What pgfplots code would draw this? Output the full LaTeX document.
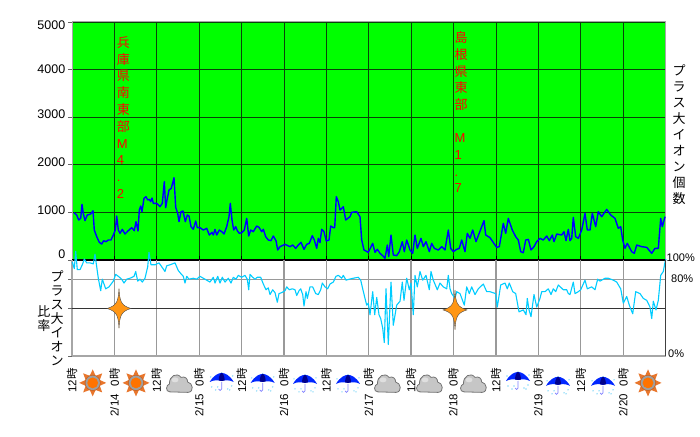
\documentclass[border=0pt]{standalone}
\usepackage{fontspec}
\usepackage{pgfplots}
\pgfplotsset{compat=1.18}
\setmainfont{Liberation Sans}
\newfontfamily\cjk{Noto Sans CJK JP}
\definecolor{grnbg}{HTML}{00FF00}
\definecolor{gridg}{HTML}{0A420A}
\definecolor{qorange}{HTML}{FF9614}
\definecolor{sunor}{HTML}{E8762C}
\newcommand{\hh}{\cjk 時}
\pgfdeclareplotmark{quake}{%
  \pgfpathmoveto{\pgfqpoint{0pt}{20pt}}%
  \pgfpathcurveto{\pgfqpoint{0.8pt}{8pt}}{\pgfqpoint{1.5pt}{3pt}}{\pgfqpoint{12pt}{0pt}}%
  \pgfpathcurveto{\pgfqpoint{1.5pt}{-3pt}}{\pgfqpoint{0.8pt}{-8pt}}{\pgfqpoint{0pt}{-20pt}}%
  \pgfpathcurveto{\pgfqpoint{-0.8pt}{-8pt}}{\pgfqpoint{-1.5pt}{-3pt}}{\pgfqpoint{-12pt}{0pt}}%
  \pgfpathcurveto{\pgfqpoint{-1.5pt}{3pt}}{\pgfqpoint{-0.8pt}{8pt}}{\pgfqpoint{0pt}{20pt}}%
  \pgfpathclose\pgfusepathqfillstroke}
\tikzset{
 sun/.pic={
  \foreach \a in {0,45,...,315}{
    \fill[sunor,rotate=\a] (6.5pt,-3.2pt) -- (13.5pt,0pt) -- (6.5pt,3.2pt) -- cycle;}
  \fill[sunor!85!black] (0pt,0pt) circle (8pt);
  \fill[gray!75] (0pt,0pt) circle (7.2pt);
  \fill[orange!90!red] (0pt,0pt) circle (5.4pt);
 },
 cloud/.pic={
  \fill[gray!45,draw=gray!90!black,line width=.8pt]
   (-10pt,-9pt) .. controls (-15pt,-9pt) and (-14pt,-2pt) .. (-10.5pt,-1pt)
   .. controls (-11pt,7pt) and (-3pt,11pt) .. (1pt,5.5pt)
   .. controls (5pt,7pt) and (8pt,4pt) .. (7.5pt,1pt)
   .. controls (13pt,0pt) and (14.5pt,-9pt) .. (8pt,-9.5pt) -- cycle;
  \fill[gray!25] (-5pt,3pt) ellipse (3.5pt and 2.5pt);
 },
 umb/.pic={
  \foreach \p/\q in {-10/-6,-6/-9,6/-8,10/-5,-11/4,11/5,0/8,-4/-6,8/-9}{
    \fill[cyan!45] (\p pt,\q pt) circle (.8pt);}
  \draw[blue!50,line width=.7pt] (0pt,-1pt) -- (0pt,-8pt) arc (360:180:1.5pt);
  \fill[blue!85!cyan] (-12pt,-1pt) .. controls (-8pt,6pt) and (-3pt,8pt) .. (0pt,8pt)
     .. controls (3pt,8pt) and (8pt,6pt) .. (12pt,-1pt)
     .. controls (8pt,1pt) and (4pt,1pt) .. (0pt,0pt)
     .. controls (-4pt,1pt) and (-8pt,1pt) .. (-12pt,-1pt);
  \fill[blue!55!black] (-3pt,.5pt) .. controls (-3pt,5pt) and (-1pt,8pt) .. (0pt,8pt)
     .. controls (1pt,8pt) and (3pt,5pt) .. (3pt,.5pt) -- (0pt,0pt) -- cycle;
 }
}
\pgfplotstableread{
x y
74.0 994
76.7 945
78.7 840
80.7 875
82 1169
83.3 980
85 826
87.3 945
90.7 966
93 1036
94.3 630
96.7 490
99.3 371
101.7 336
103.7 406
106 385
108.3 420
111 420
113.3 525
115.3 630
116.7 924
118.3 630
120 560
122.3 644
125 546
128.3 616
131.7 679
134.3 616
136 805
138 609
139.3 1050
140.7 1134
142 1015
144 1295
146 1330
147.7 1260
149.3 1274
150.7 1225
152 1302
153.3 1190
156.7 1190
160 1120
162.3 1190
164.3 1645
165.7 1099
167 1260
169 1470
171.3 1505
174 1729
175.7 1106
177.7 980
179 805
181 1015
183 1029
185.3 805
187.3 945
189 924
191 700
193.3 644
195.7 819
197.3 679
200 679
203.3 630
206.7 665
209.3 525
212 581
213.3 525
215 644
216.7 525
219.3 630
221.7 595
224 546
226.7 700
229 910
230.3 1190
232 840
233.7 630
235.7 700
237.3 616
239.3 560
241.7 574
244.3 630
246.7 875
248.7 504
250.7 630
253.3 595
256.7 714
259 686
261.7 595
263.3 644
265.7 490
268.3 420
271 406
273.3 504
276 406
277.7 210
280 280
285 329
290 280
292.7 315
295.7 245
298.3 315
301 371
304 224
306.7 329
309.3 350
312.3 511
314.3 420
316.7 245
318.3 455
320 364
321.7 644
324 595
326.3 399
329 420
330.7 714
333.3 679
334.7 679
336.3 1330
338.3 1225
340 1050
343.3 1120
345.7 840
350 910
351.7 1001
356.7 1015
360 910
361.7 420
364 210
368.3 161
372.7 350
375 161
377.3 224
380 140
382.7 91
385 35
387.3 315
388.7 70
391 525
393.3 105
396.7 91
399.3 175
402.3 385
404.3 175
406.7 420
410 210
412.7 140
415 525
417.3 245
421 455
423.3 280
426 385
429.3 175
431.7 350
434.3 245
438.3 210
441.7 280
445 210
448.3 630
450.7 245
453.3 175
456.7 224
459.3 245
461.7 420
465 175
467.3 560
470 455
472.7 630
476 385
484 826
485.7 525
490 469
495 315
496.7 266
499.3 280
503.3 770
505.7 560
508.3 875
512.3 630
515.7 490
518.3 420
520.7 175
523.3 154
525.7 420
528.3 434
531 210
534 280
536.7 385
540 455
543.3 420
546.7 504
549.3 406
552.3 525
554 385
556.7 546
561.7 525
564 595
566 406
568.3 644
570 406
571.7 455
573.3 896
575.7 490
578.3 455
581.7 630
585 980
587.3 630
590 630
592.3 980
595.7 700
598.3 1015
601.7 910
606.7 1064
610.7 945
615 875
618.3 665
620.7 700
622.7 420
625 245
627.3 350
631.7 175
634.3 140
636.7 315
641.7 280
646.7 266
651.7 140
655 245
658.3 245
660.7 875
662.3 700
665 910
}\iontable
\pgfplotstableread{
x y
72.3 98
74.3 91
75.7 109
77.3 90
80 90
82.3 95
84.3 101
86.7 97
90 97
93.3 96
95 106
96.7 93
98.3 81
100.7 68
102.3 80
105.7 70
109 72
113.3 78
115.7 85
118.3 83
121.7 80
124 76
126.7 80
130 81
134 83
135.7 88
137.7 78
140 80
142.3 77
145 81
147.7 93
149 108
151 95
155 95
159 97
161.7 93
165 88
166.7 94
170 95
175 97
178.3 89
180.7 86
183.3 83
185 76
186.7 83
189 80
193.3 81
196.7 80
200 83
203.3 81
206.7 79
210 77
213.3 82
215 76
217.7 83
220 76
222.3 82
225 77
228.3 81
231 76
233.3 82
236 80
238.3 84
241.7 82
245 84
247.3 80
248.7 69
250 85
252.7 82
255 80
257.3 82
260.7 82
263.3 75
266 69
268.3 71
270 64
272.7 69
275 66
277.3 56
279 65
281.7 66
285 68
286.7 72
289.3 69
292.3 70
295 69
296.7 63
299 68
300.7 70
302.7 64
304 52
306 67
307.3 60
310 72
312.7 72
315.7 65
318.3 64
320.7 69
322.3 76
325 72
327.7 70
330 75
333.3 77
336 83
338.3 84
341.7 81
343.3 84
346 79
349.3 80
353.3 81
358.3 82
360.7 79
362.7 70
365 60
366.7 53
368.3 55
370 43
372.7 67
374.7 43
376.7 61
379 43
380.7 39
382.7 29
384.3 14
386 70
388.3 12
391 77
393.3 32
396.7 53
400 57
402.3 77
404 58
406.7 81
409.3 69
411 76
413.3 43
415 84
417.3 72
420 88
422.7 79
426 84
429.3 69
431 88
433.3 79
437.3 69
440 76
443.3 72
446.7 70
448.3 84
450 70
451.7 65
455 60
456.7 67
460 65
464.3 53
466.7 72
469.3 65
471.7 72
475 64
478.3 70
483.3 75
486.7 67
490 67
495.7 65
497.3 51
500.7 74
505 76
507.3 70
509.3 76
512.7 67
515.7 65
519 46
523.3 48
526 43
527.3 60
529 48
531 41
534 64
536.7 51
540 60
541.7 67
545 67
548.3 70
551 64
553.3 70
555.7 67
558.3 74
563.3 69
566.7 69
568.3 65
570 64
573.3 77
575 65
578.3 67
580.7 69
585 79
587.3 70
591.7 72
595 69
597.7 80
600 78
605 81
608.3 81
613.3 79
616.7 77
620.7 70
623.3 55
626.7 62
629.3 53
632.7 44
635.7 67
640 65
643.3 60
646.7 58
650 51
651.7 39
653.3 57
656 48
658.3 58
660.7 84
663.3 88
665 98
666 101
}\ratiotable
\begin{document}
\begin{tikzpicture}[x=1pt,y=1pt]
\useasboundingbox (0,0) rectangle (700,436);
% upper chart
\begin{axis}[
  at={(72pt,176pt)},anchor=south west,scale only axis,
  width=593.7pt,height=238pt,
  xmin=72,xmax=665.7,ymin=0,ymax=5000,
  clip=false,
  axis background/.style={fill=grnbg},
  axis line style={draw=gray!70,line width=1pt},
  xtick={72,114.4,156.4,199.3,241.7,284,326.3,368.7,411,453.3,496,538.3,580.7,623.3,665.7},
  xticklabels={},
  ytick={0,1000,2000,3000,4000,5000},
  yticklabels={\raisebox{5pt}[.7em][.1em]{0},\raisebox{2pt}[.7em][.1em]{1000},\raisebox{2pt}[.7em][.1em]{2000},\raisebox{2pt}[.7em][.1em]{3000},\raisebox{0pt}[.7em][.1em]{4000},\raisebox{-4pt}[.7em][.1em]{5000}},
  y tick label style={font=\fontsize{12.5}{14}\selectfont,inner sep=1pt,xshift=-1.5pt},
  xmajorgrids,ymajorgrids,
  grid style={draw=gridg,line width=.9pt},
  xtick align=inside,ytick align=outside,
  xtick pos=bottom,ytick pos=left,
  major tick length=4pt,
  x tick style={draw=black,line width=1pt},
  y tick style={draw=gray!80!black,line width=.8pt},
]
\addplot[color=blue,line width=1.4pt,line join=round] table[x=x,y=y] {\iontable};
\draw[black,line width=1.5pt] (axis cs:72,0) -- (axis cs:665.7,0);
\node[red,anchor=north west,inner sep=0pt,align=left,font=\fontsize{13}{16.8}\selectfont]
  at (axis cs:116.6,4703) {{\cjk 兵}\\{\cjk 庫}\\{\cjk 県}\\{\cjk 南}\\{\cjk 東}\\{\cjk 部}\\M\\4\\.\\2};
\node[red,anchor=north west,inner sep=0pt,align=left,font=\fontsize{13}{16.7}\selectfont]
  at (axis cs:454.5,4800) {{\cjk 島}\\{\cjk 根}\\{\cjk 県}\\{\cjk 東}\\{\cjk 部}\\\mbox{}\\M\\1\\.\\7};
\node[black,anchor=north,inner sep=0pt,align=center,font=\cjk\fontsize{13}{16}\selectfont]
  at (axis cs:679,4105) {プ\\ラ\\ス\\大\\イ\\オ\\ン\\個\\数};
\end{axis}
% lower chart
\begin{axis}[
  at={(72pt,80pt)},anchor=south west,scale only axis,
  width=593.7pt,height=96pt,
  xmin=72,xmax=665.7,ymin=0,ymax=100,
  clip=false,
  axis x line*=bottom,axis y line*=left,
  axis line style={draw=gray!70,line width=1.2pt,-},
  xtick={72,114.4,156.4,199.3,241.7,284,326.3,368.7,411,453.3,496,538.3,580.7,623.3},
  xticklabels={12\hh,0\hh,12\hh,0\hh,12\hh,0\hh,12\hh,0\hh,12\hh,0\hh,12\hh,0\hh,12\hh,0\hh},
  x tick label style={rotate=90,anchor=east,inner sep=0pt,xshift=-8pt,font=\fontsize{11.5}{13}\selectfont},
  extra x ticks={114.4,199.3,284,368.7,453.3,538.3,623.3},
  extra x tick labels={2/14,2/15,2/16,2/17,2/18,2/19,2/20},
  extra x tick style={grid=none,tick label style={yshift=-26pt,font=\fontsize{13.5}{15}\selectfont}},
  ytick={0,80},
  yticklabels={},
  extra y ticks={50},
  extra y tick labels={},
  extra y tick style={grid=major,grid style={draw=black!80,line width=.8pt}},
  xmajorgrids,ymajorgrids,
  grid style={draw=gray!80,line width=1.2pt},
  tick align=outside,xtick pos=bottom,ytick pos=left,
  major tick length=4pt,
  x tick style={draw=none},
  y tick style={draw=gray!80!black,line width=.8pt},
]
\addplot[draw={rgb,255:red,0;green,204;blue,255},line width=1.1pt,line join=round] table[x=x,y=y] {\ratiotable};
\addplot[only marks,mark=quake,mark options={fill=qorange,draw=black!70,line width=.4pt}]
  coordinates {(119,49.5) (455,48)};
\draw[black!75,line width=1.2pt] (axis cs:665.7,0) -- (axis cs:665.7,100);
\node[anchor=west,inner sep=0pt,font=\fontsize{11}{12}\selectfont] at (axis cs:666.5,102) {100\%};
\node[anchor=west,inner sep=0pt,font=\fontsize{11}{12}\selectfont] at (axis cs:671,80) {80\%};
\node[anchor=west,inner sep=0pt,font=\fontsize{11}{12}\selectfont] at (axis cs:668,2) {0\%};
\node[anchor=north,inner sep=0pt,align=center,font=\cjk\fontsize{13}{14}\selectfont]
  at (axis cs:57,89.5) {プ\\ラ\\ス\\大\\イ\\オ\\ン};
\node[anchor=north,inner sep=0pt,align=center,font=\cjk\fontsize{13}{14}\selectfont]
  at (axis cs:44,53) {比\\率};
\pic at (axis cs:92.7,-28) {sun};
\pic at (axis cs:136,-28) {sun};
\pic at (axis cs:180,-28) {cloud};
\pic at (axis cs:221.7,-26) {umb};
\pic at (axis cs:262.7,-27) {umb};
\pic at (axis cs:305,-28) {umb};
\pic at (axis cs:348,-28) {umb};
\pic at (axis cs:388,-28) {cloud};
\pic at (axis cs:430,-28) {cloud};
\pic at (axis cs:474,-28) {cloud};
\pic at (axis cs:518,-25) {umb};
\pic at (axis cs:558,-30) {umb};
\pic at (axis cs:603,-30) {umb};
\pic at (axis cs:648,-28) {sun};
\end{axis}
\end{tikzpicture}
\end{document}
